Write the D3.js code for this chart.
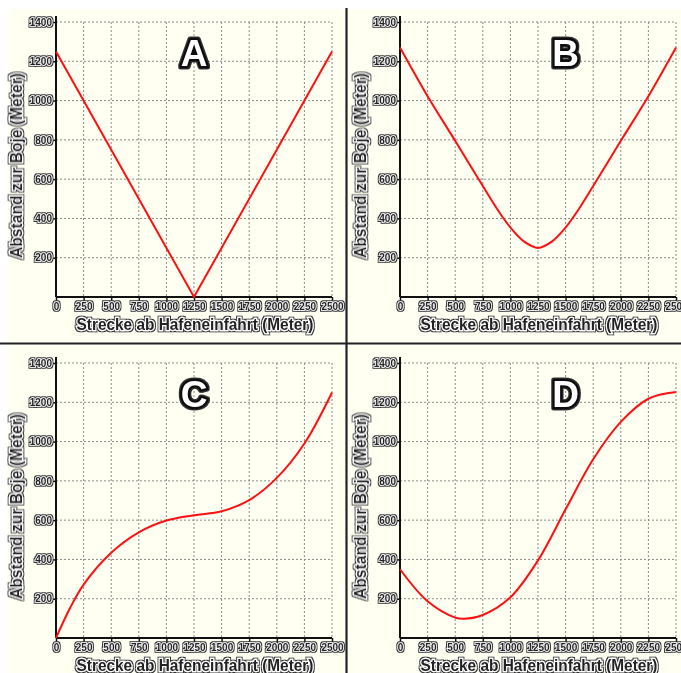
<!DOCTYPE html>
<html>
<head>
<meta charset="utf-8">
<script src="https://cdn.jsdelivr.net/npm/d3@7"></script>
<style>
  body { margin: 0; background: #fff; }
  svg { display: block; }
  text { font-family: "Liberation Sans", Arial, sans-serif; font-weight: bold; }
</style>
</head>
<body>
<svg id="chart" width="681" height="673"></svg>
<script>
// ticks
const xTicks = [0, 250, 500, 750, 1000, 1250, 1500, 1750, 2000, 2250, 2500];
const yTicks = [200, 400, 600, 800, 1000, 1200, 1400];

// curves: [Strecke, Abstand]
const curveA = [[0, 1250], [1250, 0], [2500, 1250]];
const curveB = [[0, 1270], [250, 1022], [500, 795], [750, 565], [875, 452], [1000, 354], [1125, 282], [1250, 250],
  [1375, 282], [1500, 354], [1625, 452], [1750, 565], [2000, 795], [2250, 1022], [2500, 1270]];
const curveC = [[0, 0], [125, 150], [250, 272], [500, 434], [750, 538], [1000, 598], [1250, 625],
  [1500, 645], [1750, 702], [2000, 815], [2250, 990], [2500, 1250]];
const curveD = [[0, 350], [250, 187], [500, 104], [580, 98], [750, 117], [1000, 207], [1250, 395],
  [1500, 655], [1750, 910], [2000, 1100], [2250, 1218], [2500, 1252]];

const labels = ["A", "B", "C", "D"];
const labelAt = [1250, 1500, 1250, 1500];

const svg = d3.select("#chart");
const w = 276, h = 275;

const defs = svg.append("defs");
const halo = defs.append("filter").attr("id", "halo")
  .attr("x", "-20%").attr("y", "-40%").attr("width", "140%").attr("height", "180%");
halo.append("feMorphology").attr("in", "SourceAlpha").attr("operator", "dilate").attr("radius", 0.8).attr("result", "d");
halo.append("feGaussianBlur").attr("in", "d").attr("stdDeviation", 0.7).attr("result", "b");
halo.append("feFlood").attr("flood-color", "#333");
halo.append("feComposite").attr("in2", "b").attr("operator", "in").attr("result", "s");
const merge = halo.append("feMerge");
merge.append("feMergeNode").attr("in", "s");
merge.append("feMergeNode").attr("in", "SourceGraphic");

// cream backgrounds and dividers
const bgs = [[8, 9, 337, 334], [348, 9, 333, 334], [8, 345, 337, 328], [348, 345, 333, 328]];
svg.selectAll("rect.bg").data(bgs).enter().append("rect")
  .attr("x", d => d[0]).attr("y", d => d[1]).attr("width", d => d[2]).attr("height", d => d[3])
  .attr("fill", "#fffff2");
svg.append("line").attr("x1", 0).attr("x2", 681).attr("y1", 343.5).attr("y2", 343.5)
  .attr("stroke", "#222").attr("stroke-width", 2.2);
svg.append("line").attr("x1", 346.5).attr("x2", 346.5).attr("y1", 8).attr("y2", 673)
  .attr("stroke", "#222").attr("stroke-width", 2.2);

const smooth = d3.curveCatmullRom.alpha(0.5);
const panels = [
  { left: 56, top: 22, data: curveA, curve: d3.curveLinear },
  { left: 400, top: 22, data: curveB, curve: smooth },
  { left: 56, top: 363, data: curveC, curve: smooth },
  { left: 400, top: 363, data: curveD, curve: smooth }
];

panels.forEach((p, i) => {
  const g = svg.append("g").attr("transform", `translate(${p.left},${p.top})`);
  const x = d3.scaleLinear().domain([0, 2500]).range([0, w]);
  const y = d3.scaleLinear().domain([0, 1400]).range([h, 0]);

  // grid
  g.append("g").selectAll("line").data(xTicks.slice(1)).enter().append("line")
    .attr("x1", d => x(d)).attr("x2", d => x(d)).attr("y1", 0).attr("y2", h)
    .attr("stroke", "#8a8a8a").attr("stroke-dasharray", "2,2");
  g.append("g").selectAll("line").data(yTicks).enter().append("line")
    .attr("x1", 0).attr("x2", w).attr("y1", d => y(d)).attr("y2", d => y(d))
    .attr("stroke", "#8a8a8a").attr("stroke-dasharray", "2,2");

  // axes
  const xAxis = g.append("g").attr("transform", `translate(0,${h})`)
    .call(d3.axisBottom(x).tickValues(xTicks).tickSize(4).tickFormat(d3.format("d")));
  const yAxis = g.append("g")
    .call(d3.axisLeft(y).tickValues(yTicks).tickSize(4).tickFormat(d3.format("d")));
  [xAxis, yAxis].forEach(a => {
    a.select(".domain").attr("stroke", "#111").attr("stroke-width", 2);
    a.selectAll(".tick line").attr("stroke", "#111").attr("stroke-width", 1.5);
    a.selectAll(".tick text")
      .attr("font-family", "'Liberation Sans', Arial, sans-serif").attr("font-weight", "bold")
      .attr("font-size", 10).attr("fill", "#222")
      .attr("stroke", "#fff").attr("stroke-width", 1.6).attr("paint-order", "stroke")
      .attr("filter", "url(#halo)");
  });
  xAxis.select(".domain").attr("d", `M0,0H${w}`);
  yAxis.select(".domain").attr("d", `M0,${h}V-6`);
  xAxis.selectAll(".tick text").attr("y", 6);
  yAxis.selectAll(".tick text").attr("x", -4);

  // curve
  const line = d3.line().x(d => x(d[0])).y(d => y(d[1])).curve(p.curve);
  g.append("path").datum(p.data).attr("d", line)
    .attr("fill", "none").attr("stroke", "#ff1010").attr("stroke-width", 2);

  // axis titles
  g.append("text").attr("x", w / 2 + 1).attr("y", h + 33).attr("text-anchor", "middle")
    .attr("font-size", 16).attr("textLength", 237).attr("lengthAdjust", "spacingAndGlyphs")
    .attr("fill", "#222").attr("stroke", "#fff").attr("stroke-width", 2.4).attr("paint-order", "stroke")
    .attr("filter", "url(#halo)")
    .text("Strecke ab Hafeneinfahrt (Meter)");
  g.append("text").attr("transform", `translate(-34,${h / 2 + 6}) rotate(-90)`)
    .attr("text-anchor", "middle")
    .attr("font-size", 16).attr("textLength", 185).attr("lengthAdjust", "spacingAndGlyphs")
    .attr("fill", "#222").attr("stroke", "#fff").attr("stroke-width", 2.4).attr("paint-order", "stroke")
    .attr("filter", "url(#halo)")
    .text("Abstand zur Boje (Meter)");

  // panel letter
  g.append("text").attr("x", x(labelAt[i])).attr("y", 44).attr("text-anchor", "middle")
    .attr("font-size", 37).attr("fill", "#fff").attr("stroke", "#111").attr("stroke-width", 5)
    .attr("stroke-linejoin", "round").attr("paint-order", "stroke")
    .attr("filter", "url(#halo)")
    .text(labels[i]);
});
</script>
</body>
</html>
